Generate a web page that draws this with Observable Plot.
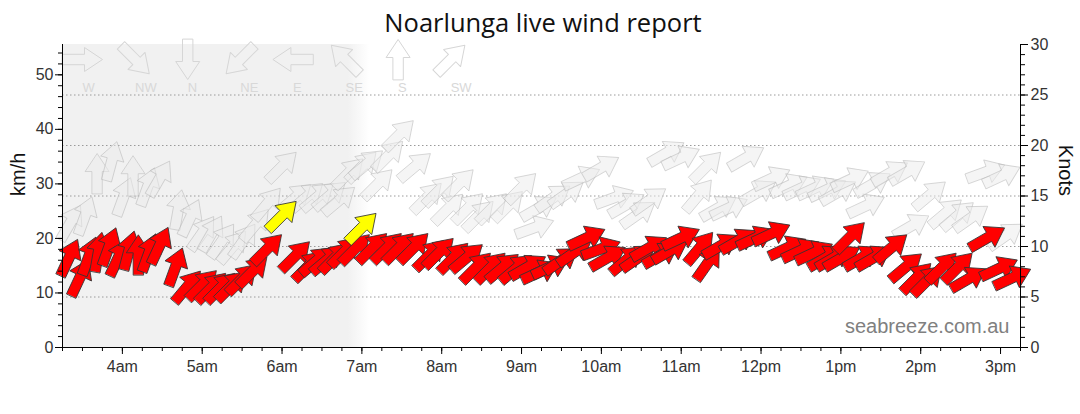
<!DOCTYPE html>
<html><head><meta charset="utf-8">
<script src="https://cdn.jsdelivr.net/npm/d3@7"></script>
<script src="https://cdn.jsdelivr.net/npm/@observablehq/plot@0.6"></script>
<style>
body{margin:0;background:#fff;width:1080px;height:414px;overflow:hidden;font-family:"Liberation Sans",Arial,sans-serif}
#title{height:40px;text-align:center;font-family:"Open Sans",sans-serif;font-size:25.5px;line-height:44px;color:#111;padding-left:6px;box-sizing:border-box}
#chart svg{overflow:visible;display:block}
</style></head><body>
<div id="title">Noarlunga live wind report</div>
<div id="chart"></div>
<script>
// ---- data (time, km/h, direction wind comes FROM in degrees) ----
const windTimes = ["3:20","3:28","3:35","3:42","3:50","3:57","4:05","4:12","4:20","4:28","4:40","4:49","5:00","5:07","5:14","5:22","5:30","5:38","5:49","6:10","6:20","6:26","6:34","6:40","6:47","6:55","7:08","7:19","7:28","7:39","7:51","7:58","8:09","8:19","8:26","8:37","8:46","8:56","9:05","9:14","9:22","9:30","9:40","9:49","10:00","10:05","10:19","10:28","10:36","10:45","10:52","11:00","11:14","11:20","11:30","11:43","11:56","12:08","12:20","12:30","12:40","12:49","12:55","13:01","13:07","13:16","13:25","13:38","13:49","13:57","14:05","14:16","14:28","14:36","14:50","14:59","15:09"];
const windKmh = [16.5,12.8,16.8,17.5,18.5,16.5,17.8,17.0,17.4,18.7,14.8,11.2,11.5,11.0,11.0,11.3,12.6,14.0,18.1,16.8,15.0,15.9,16.1,16.5,17.6,18.1,18.3,18.3,18.3,18.3,17.0,17.4,16.5,16.5,14.7,14.7,14.7,14.5,14.8,13.9,14.8,16.0,17.5,20.1,18.1,16.5,16.1,16.5,18.3,17.0,17.8,20.1,18.3,15.5,18.7,19.6,20.1,20.9,18.3,17.8,17.4,16.5,16.5,16.5,20.3,16.5,16.5,18.3,14.8,12.8,12.3,14.7,14.7,12.6,20.1,14.5,12.8];
const windDir = [205,205,200,190,200,205,195,180,200,205,200,220,225,225,225,225,225,225,225,225,225,230,230,225,225,225,225,225,225,225,225,225,225,230,225,225,230,230,240,245,245,235,235,245,250,240,230,235,240,240,240,245,220,215,240,240,245,245,245,245,245,240,240,240,225,240,240,230,230,225,225,225,225,240,240,245,245];

const gustTimes = ["3:21","3:32","3:41","3:52","4:01","4:08","4:19","4:28","4:42","4:51","5:00","5:07","5:15","5:23","5:31","5:40","5:49","6:00","6:10","6:19","6:27","6:36","6:43","6:50","7:00","7:04","7:12","7:20","7:28","7:40","7:49","7:58","8:05","8:13","8:20","8:28","8:38","8:50","9:00","9:10","9:13","9:24","9:34","9:45","10:00","10:10","10:19","10:28","10:36","10:49","11:00","11:13","11:19","11:28","11:36","11:49","11:58","12:08","12:21","12:31","12:41","12:50","12:58","13:07","13:19","13:24","13:37","13:50","13:53","14:07","14:19","14:28","14:38","14:49","15:01","15:04"];
const gustKmh = [22.9,24.2,31.9,34.2,27.7,31.5,29.5,31.0,25.3,23.8,21.0,20.9,19.6,18.5,19.6,22.5,26.4,33.2,27.5,27.7,27.7,27.9,27.0,32.0,33.2,33.7,30.0,35.2,39.0,33.2,27.5,28.8,25.5,30.0,25.6,24.2,25.6,26.0,29.3,22.0,25.6,27.5,28.2,31.1,33.0,27.5,26.2,24.5,27.0,35.7,34.8,27.9,33.2,25.6,25.6,34.8,28.5,31.0,29.7,29.3,29.3,29.0,28.5,30.8,26.0,30.0,32.0,32.2,22.3,28.0,24.7,24.2,23.8,32.2,31.5,20.5];
const gustDir = [210,200,180,195,200,180,200,210,190,205,215,210,215,220,215,220,220,225,230,230,230,230,230,225,225,230,225,225,225,230,225,225,225,225,225,225,225,225,225,250,240,235,235,245,240,250,240,235,235,240,245,220,225,240,245,240,240,245,245,245,245,245,240,245,245,240,240,240,240,230,230,230,235,250,245,235];

const markTimes = ["6:00","7:00"];
const markKmh = [24.2, 22.0];
const markDir = [225, 225];

const compassLabels = ["W","NW","N","NE","E","SE","S","SW"];
const compassDir = [270,315,0,45,90,135,180,225];

const hourTicks = ["4:00","5:00","6:00","7:00","8:00","9:00","10:00","11:00","12:00","13:00","14:00","15:00"];
const kmhTicks = [0,10,20,30,40,50];
const knotTicks = [0,5,10,15,20,25,30];
const knotGrid = [5,10,15,20,25];
const nightSpan = [["3:15","7:06"]];
const domainTimes = ["3:15","15:15"];

// ---- helpers ----
const KN = 1.852;
const t = s => { const [h, m] = s.split(":").map(Number); return new Date(2024, 0, 1, h, m); };
const ymax = 30 * KN;
const fmtHour = d => { const h = d.getHours(); return (h % 12 === 0 ? 12 : h % 12) + (h < 12 ? "am" : "pm"); };

const wind = windTimes.map((s, i) => ({time: t(s), kmh: windKmh[i], dir: windDir[i]}));
const gust = gustTimes.map((s, i) => ({time: t(s), kmh: gustKmh[i], dir: gustDir[i]}));
const marks = markTimes.map((s, i) => ({time: t(s), kmh: markKmh[i], dir: markDir[i]}));
const night = nightSpan.map(([a, b]) => ({start: t(a), end: t(b)}));
const toward = d => (d.dir + 180) % 360;

const arrow = {
  draw(ctx, l) {
    const w = 5.2, h = 12, hl = 18;
    ctx.moveTo(-w, 0);
    ctx.lineTo(-w, -(l - hl));
    ctx.lineTo(-h, -(l - hl));
    ctx.lineTo(0, -l);
    ctx.lineTo(h, -(l - hl));
    ctx.lineTo(w, -(l - hl));
    ctx.lineTo(w, 0);
    ctx.closePath();
  }
};

const quarterTicks = d3.timeMinute.every(15).range(t("3:15"), t("15:16"));

const compassMarks = compassLabels.flatMap((lab, i) => [
  Plot.vector([lab], {frameAnchor: "top-left", dx: 20 + i * 52.6, dy: 15, rotate: (compassDir[i] + 180) % 360,
    length: 40, shape: arrow, anchor: "middle", fill: "none", stroke: "#d6d6d6", strokeWidth: 1}),
  Plot.text([lab], {frameAnchor: "top-left", dx: 20 + i * 52.6, dy: 43, lineAnchor: "middle", text: d => d, fill: "#d8d8d8", fontSize: 13})
]);

const chart = Plot.plot({
  width: 1080, height: 374,
  marginTop: 4, marginBottom: 67, marginLeft: 62, marginRight: 60,
  style: {fontFamily: "'Liberation Sans', Arial, sans-serif", fontSize: "16px", color: "#333", overflow: "visible", background: "transparent"},
  x: {type: "time", domain: domainTimes.map(t), axis: null},
  y: {domain: [0, ymax], axis: null},
  marks: [
    Plot.rect(night, {x1: "start", x2: "end", y1: 0, y2: ymax, fill: "url(#nightGrad)"}),
    Plot.ruleY(knotGrid.map(k => k * KN), {stroke: "#9a9a9a", strokeDasharray: "1.5,2.5"}),
    ...compassMarks,
    Plot.vector(gust, {x: "time", y: "kmh", rotate: toward, length: 40, shape: arrow, anchor: "middle",
      fill: "#ebebeb", fillOpacity: 0.5, stroke: "#b5b5b5", strokeOpacity: 0.55, strokeWidth: 0.9, ariaLabel: "gust"}),
    Plot.vector(wind, {x: "time", y: "kmh", rotate: toward, length: 40, shape: arrow, anchor: "middle",
      fill: "#ff0000", stroke: "#333", strokeWidth: 0.8, ariaLabel: "wind"}),
    Plot.vector(marks, {x: "time", y: "kmh", rotate: toward, length: 40, shape: arrow, anchor: "middle",
      fill: "#ffff00", stroke: "#333", strokeWidth: 0.8, ariaLabel: "mark"}),
    Plot.ruleX(domainTimes.map(t), {stroke: "#000"}),
    Plot.ruleY([0], {stroke: "#000"}),
    Plot.axisX(quarterTicks, {anchor: "bottom", tickSize: 4, tickFormat: () => "", stroke: "#000", label: null}),
    Plot.axisX(hourTicks.map(t), {anchor: "bottom", tickSize: 7, tickPadding: 6, tickFormat: fmtHour, stroke: "#000", fill: "#333", fontSize: 16, label: null}),
    Plot.axisY(d3.range(0, 56, 2), {anchor: "left", tickSize: 4, tickFormat: () => "", stroke: "#000", label: null}),
    Plot.axisY(kmhTicks, {anchor: "left", tickSize: 7, tickPadding: 2, stroke: "#000", fill: "#333", fontSize: 16, label: null}),
    Plot.axisY(d3.range(0, 31, 1).map(k => k * KN), {anchor: "right", tickSize: 4, tickFormat: () => "", stroke: "#000", label: null}),
    Plot.axisY(knotTicks.map(k => k * KN), {anchor: "right", tickSize: 7, tickPadding: 3, tickFormat: d => Math.round(d / KN), stroke: "#000", fill: "#333", fontSize: 16, label: null}),
    Plot.text(["km/h"], {frameAnchor: "left", dx: -44, rotate: -90, text: d => d, fontSize: 20, fill: "#111"}),
    Plot.text(["Knots"], {frameAnchor: "right", dx: 45, rotate: 90, text: d => d, fontSize: 20, fill: "#111"}),
    Plot.text(["seabreeze.com.au"], {frameAnchor: "bottom-right", dx: -11, dy: -15, textAnchor: "end", text: d => d, fontSize: 20, fill: "#808080"})
  ]
});

const svg = chart.tagName.toLowerCase() === "svg" ? chart : chart.querySelector("svg");
const defs = d3.select(svg).insert("defs", ":first-child");
const g = defs.append("linearGradient").attr("id", "nightGrad").attr("x1", 0).attr("x2", 1).attr("y1", 0).attr("y2", 0);
g.append("stop").attr("offset", 0).attr("stop-color", "#f1f1f1");
g.append("stop").attr("offset", 0.93).attr("stop-color", "#f1f1f1");
g.append("stop").attr("offset", 1).attr("stop-color", "#ffffff");
const f = defs.append("filter").attr("id", "shadow").attr("x", "-5%").attr("y", "-20%").attr("width", "115%").attr("height", "160%");
f.append("feDropShadow").attr("dx", 4).attr("dy", 11).attr("stdDeviation", 6).attr("flood-color", "#000").attr("flood-opacity", 0.3);
d3.select(svg).selectAll('g[aria-label="gust"], g[aria-label="wind"], g[aria-label="mark"]').attr("filter", "url(#shadow)");

document.getElementById("chart").appendChild(chart);
</script>
</body></html>
